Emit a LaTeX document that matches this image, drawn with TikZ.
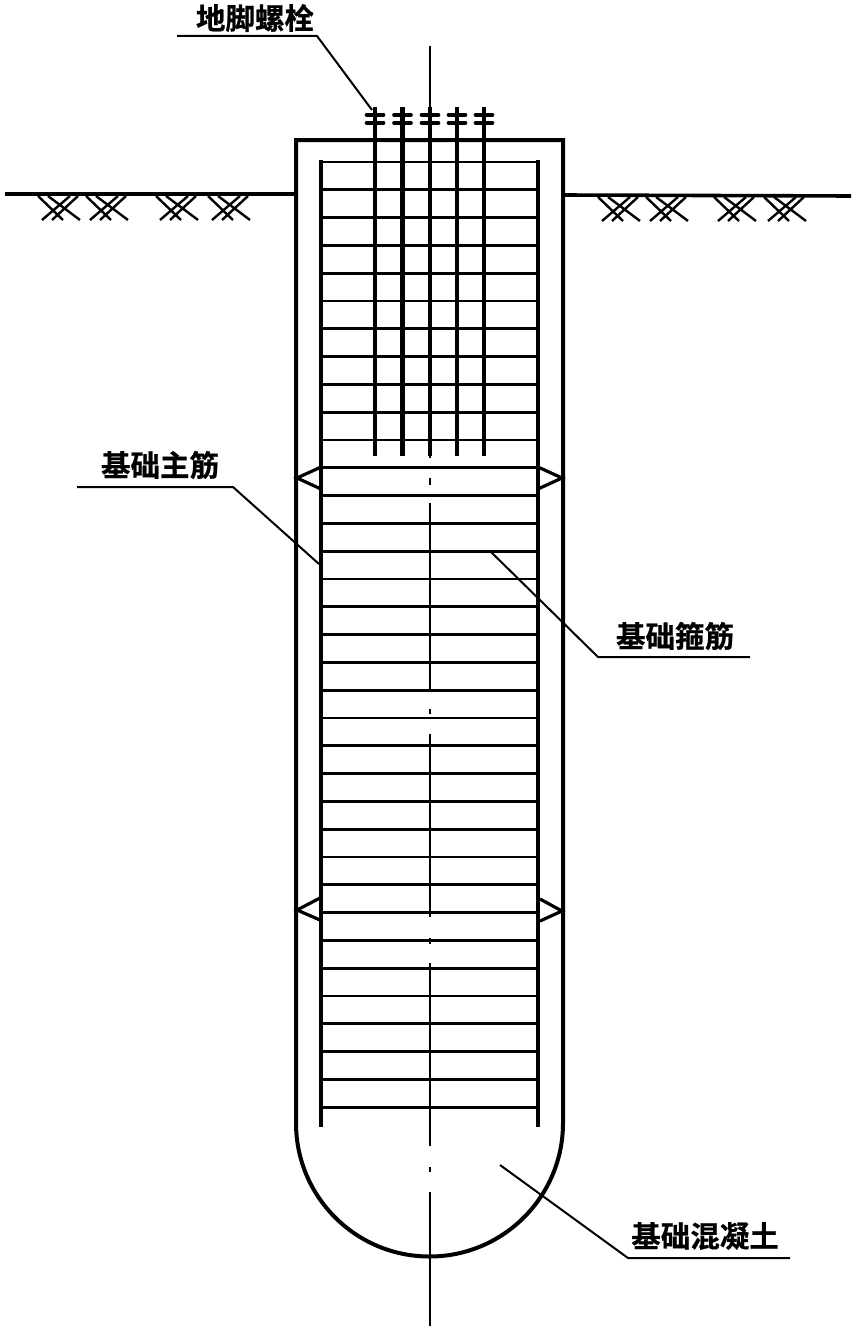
\documentclass[tikz,border=0pt]{standalone}
\usepackage{fontspec}
\newfontfamily\cjk{Noto Sans CJK SC}[BoldFont={Noto Sans CJK SC Bold},BoldFeatures={FakeBold=0.6}]
\tikzset{
  outline/.style={line width=4pt,line join=miter},
  rebar/.style={line width=4.4pt},
  hoop/.style={line width=2.9pt},
  bolt/.style={line width=4.2pt},
  nut/.style={line width=3.6pt,line cap=round},
  axisline/.style={line width=2.8pt},
  leader/.style={line width=2pt},
  ground/.style={line width=3.6pt},
  hatchline/.style={line width=2.4pt},
  haunch/.style={line width=3.2pt},
  label/.style={font=\cjk\bfseries\fontsize{29.5}{29.5}\selectfont,inner sep=0pt}
}
\begin{document}
\begin{tikzpicture}[x=1pt,y=-1pt]
\useasboundingbox (0,0) rectangle (855,1330);
% foundation outline
\draw[outline] (296,1123) -- (296,140) -- (563,140) -- (563,1123) arc[start angle=0,end angle=180,x radius=133.5,y radius=133.5];
% ground
\coordinate (gl1) at (5,194); \coordinate (gl2) at (296,194);
\coordinate (gr1) at (563,195); \coordinate (gr2) at (851,196);
\draw[ground] (gl1) -- (gl2);
\draw[ground] (gr1) -- (gr2);
\foreach \cx/\cy in {57/205,105/205,175/205,227/205,617/206,665/206,733/206,783/206}{
  \draw[hatchline] (\cx-19,\cy-9) -- (\cx+6,\cy+15) (\cx-9,\cy-9) -- (\cx+23,\cy+15)
                   (\cx-15,\cy+15) -- (\cx+13,\cy-9) (\cx-5,\cy+15) -- (\cx+21,\cy-9);
}
% hoops
\foreach \k in {0,...,34}{
  \draw[hoop] (321,162+27.8*\k) -- (538,162+27.8*\k);
}
% main bars
\draw[rebar] (321,160) -- (321,1127);
\draw[rebar] (538,160) -- (538,1127);
% haunches
\draw[haunch] (321,467) -- (297,478) -- (321,489);
\draw[haunch] (538,467) -- (562,478) -- (538,489);
\draw[haunch] (320,898) -- (297,910) -- (320,920);
\draw[haunch] (540,899) -- (562,911) -- (540,921);
% centre line
\foreach \a/\b in {46/458,478/485,503/692,709/714,734/917,938/944,963/1146,1167/1172,1192/1326}{
  \draw[axisline] (430,\a) -- (430,\b);
}
% anchor bolts
\foreach \bx in {375,402.5,430,457,484}{
  \draw[bolt] (\bx,107) -- (\bx,456);
  \draw[nut] (\bx-8.5,115) -- (\bx+8.5,115);
  \draw[nut] (\bx-8.5,123) -- (\bx+8.5,123);
}
% labels and leaders
\node[label] (t1) at (255,18) {地脚螺栓};
\coordinate (a1) at (177,36); \coordinate (a2) at (317,36); \coordinate (a3) at (372,110);
\draw[leader] (a1) -- (a2) -- (a3);
\node[label] (t2) at (160,465) {基础主筋};
\coordinate (b1) at (77,487); \coordinate (b2) at (233,487); \coordinate (b3) at (319,564);
\draw[leader] (b1) -- (b2) -- (b3);
\node[label] (t3) at (675,636) {基础箍筋};
\coordinate (c1) at (750,657); \coordinate (c2) at (598,657); \coordinate (c3) at (490,551);
\draw[leader] (c1) -- (c2) -- (c3);
\node[label] (t4) at (705,1236) {基础混凝土};
\coordinate (d1) at (790,1258); \coordinate (d2) at (628,1258); \coordinate (d3) at (500,1165);
\draw[leader] (d1) -- (d2) -- (d3);
\end{tikzpicture}
\end{document}
